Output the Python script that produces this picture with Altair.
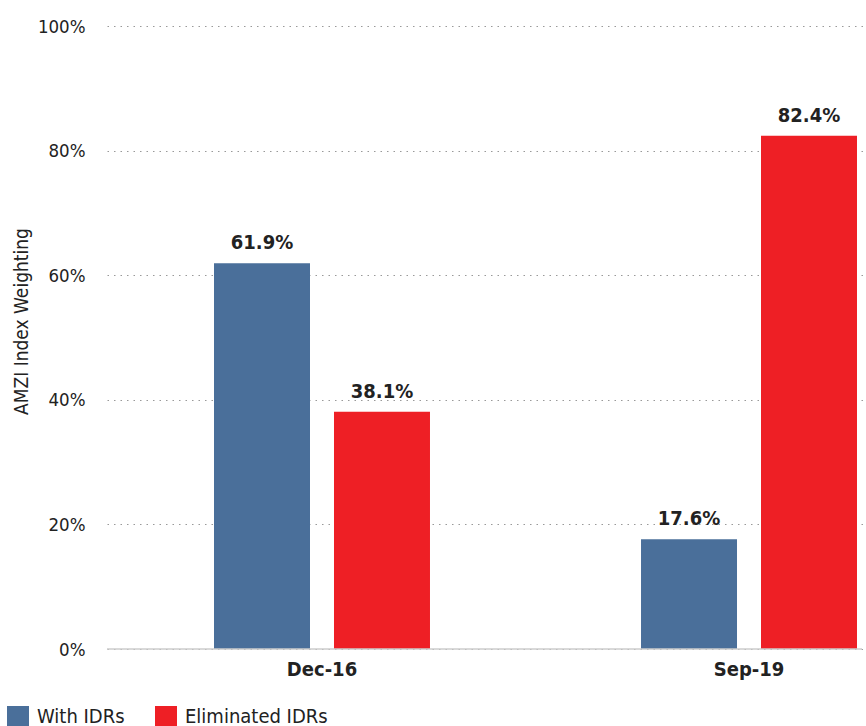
import altair as alt
import pandas as pd

periods = ["Dec-16", "Sep-19"]
series = ["With IDRs", "Eliminated IDRs"]
with_idrs = [61.9, 17.6]
eliminated_idrs = [38.1, 82.4]
colors = ["#4a6f9a", "#ee1f25"]
y_ticks = [0, 0.2, 0.4, 0.6, 0.8, 1.0]

rows = []
for i, p in enumerate(periods):
    rows.append({"period": p, "series": series[0], "value": with_idrs[i] / 100})
    rows.append({"period": p, "series": series[1], "value": eliminated_idrs[i] / 100})
df = pd.DataFrame(rows)

FONT = "DejaVu Sans Condensed, Liberation Sans Narrow, sans-serif"

y_axis = alt.Axis(
    title="AMZI Index Weighting", values=y_ticks, format=".0%",
    domain=False, ticks=False, labelPadding=22,
    labelFont=FONT, labelFontSize=18.5, labelColor="#222222",
    titleFont=FONT, titleFontSize=19, titleFontWeight="normal",
    titleColor="#222222", titlePadding=6, titleY=295,
    grid=True, gridColor="#999999", gridDash=[1.5, 5], gridWidth=1,
)
x_axis = alt.Axis(
    title=None, domain=False, ticks=False, labelAngle=0,
    labelFont=FONT, labelFontSize=20, labelFontWeight="bold",
    labelColor="#222222", labelPadding=10,
)

x_enc = alt.X(
    "period:N",
    sort=periods,
    scale=alt.Scale(range=[0, 857], paddingInner=0.438, paddingOuter=0.2225),
    axis=x_axis,
)
xo_enc = alt.XOffset(
    "series:N", sort=series,
    scale=alt.Scale(paddingInner=0.2, paddingOuter=0.1),
)
y_enc = alt.Y("value:Q", scale=alt.Scale(domain=[0, 1], nice=False), axis=y_axis)

base = alt.Chart(df)

bars = base.mark_bar().encode(
    x=x_enc,
    xOffset=xo_enc,
    y=y_enc,
    color=alt.Color(
        "series:N",
        sort=series,
        scale=alt.Scale(domain=series, range=colors),
        legend=alt.Legend(
            title=None, orient="none", legendX=-100, legendY=680,
            direction="horizontal", symbolType="square", symbolSize=484,
            symbolStrokeWidth=0, symbolOpacity=1, labelFont=FONT,
            labelFontSize=20, labelColor="#222222", labelOffset=8,
            columnPadding=30,
        ),
    ),
)

labels = base.mark_text(
    dy=-10, baseline="bottom", font=FONT, fontSize=20,
    fontWeight="bold", color="#222222",
).encode(
    x=x_enc,
    xOffset=xo_enc,
    y=y_enc,
    text=alt.Text("value:Q", format=".1%"),
)

zero = alt.Chart(pd.DataFrame({"value": [0.0]})).mark_rule(
    color="#cccccc", strokeWidth=1.5
).encode(y=y_enc)

chart = alt.layer(bars, zero, labels).properties(
    width=755,
    height=623,
    autosize=alt.AutoSizeParams(type="none"),
    padding={"left": 107, "top": 26, "right": 4, "bottom": 77},
).configure(background="white").configure_view(stroke=None).configure_axis(
    domain=False, ticks=False
)

chart.save("out.html", embed_options={"renderer": "svg", "actions": False})
